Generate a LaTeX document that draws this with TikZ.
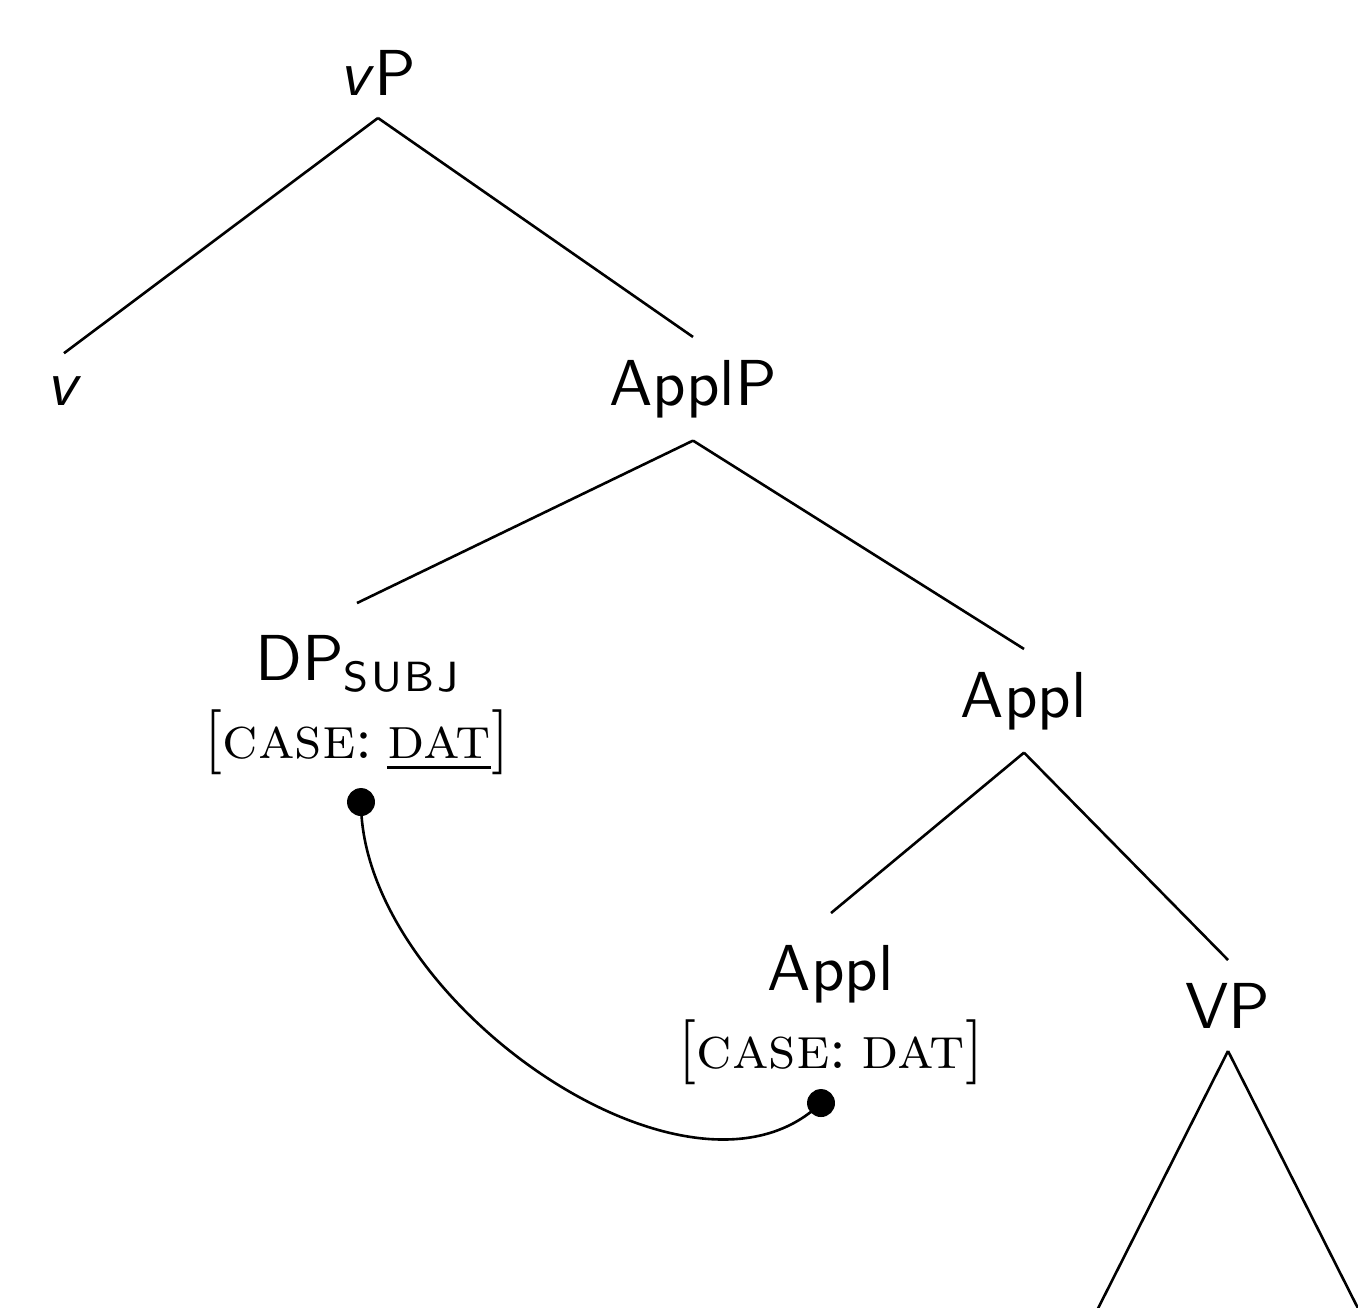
\documentclass[tikz,border=0pt]{standalone}
\tikzset{
  cat/.style={font=\sffamily, inner sep=0.3333em},
  feat/.style={cat, align=center, anchor=north},
  branch/.style={line width=0.4pt},
  agreedot/.style={circle, fill=black, inner sep=0pt, minimum size=4.3pt},
  agreelink/.style={line width=0.4pt},
}
% subscript label set as small spaced capitals
\newcommand{\subjmark}{\raisebox{-1.6pt}{\fontsize{6.5}{7}\selectfont S\kern0.4pt U\kern0.4pt B\kern0.4pt J}}
% bracketed case feature
\newcommand{\featcase}[1]{{\rmfamily[{\fontsize{9.2}{12}\selectfont\textsc{case}:\hspace{2.2pt}#1}]}}
\begin{document}
\begin{tikzpicture}[x=0.15385pt, y=-0.15385pt]
  \useasboundingbox (0,0) rectangle (1358,1307);
  \clip (0,0) rectangle (1358,1307);

  % category labels
  \node[cat, anchor=base] (vP)    at (378,95)   {\textit{v}P};
  \node[cat, anchor=base] (v)     at (64,405)   {\textit{v}};
  \node[cat, anchor=base] (ApplP) at (693,405)  {ApplP};
  \node[feat]             (DP)    at (357,603)  {\strut DP\subjmark\\\featcase{\underline{\textsc{dat}}}};
  \node[cat, anchor=base] (Applb) at (1024,717) {Appl};
  \node[feat]             (Appl)  at (831,913)  {\strut Appl\\\featcase{\textsc{dat}}};
  \node[cat, anchor=base] (VP)    at (1228,1028){VP};

  % free ends of the VP branches
  \coordinate (VPl) at (1082,1340);
  \coordinate (VPr) at (1374,1340);

  % branches
  \draw[branch] (vP.south) -- (v.north);
  \draw[branch] (vP.south) -- (ApplP.north);
  \draw[branch] (ApplP.south) -- (DP.north);
  \draw[branch] (ApplP.south) -- (Applb.north);
  \draw[branch] (Applb.south) -- (Appl.north);
  \draw[branch] (Applb.south) -- (VP.north);
  \draw[branch] (VP.south) -- (VPl);
  \draw[branch] (VP.south) -- (VPr);

  % agreement link between the case features
  \node[agreedot] (d1) at (361,802) {};
  \node[agreedot] (d2) at (821,1103) {};
  \draw[agreelink] (d1.center) .. controls +(0,198) and +(-131,127) .. (d2.center);
\end{tikzpicture}
\end{document}
